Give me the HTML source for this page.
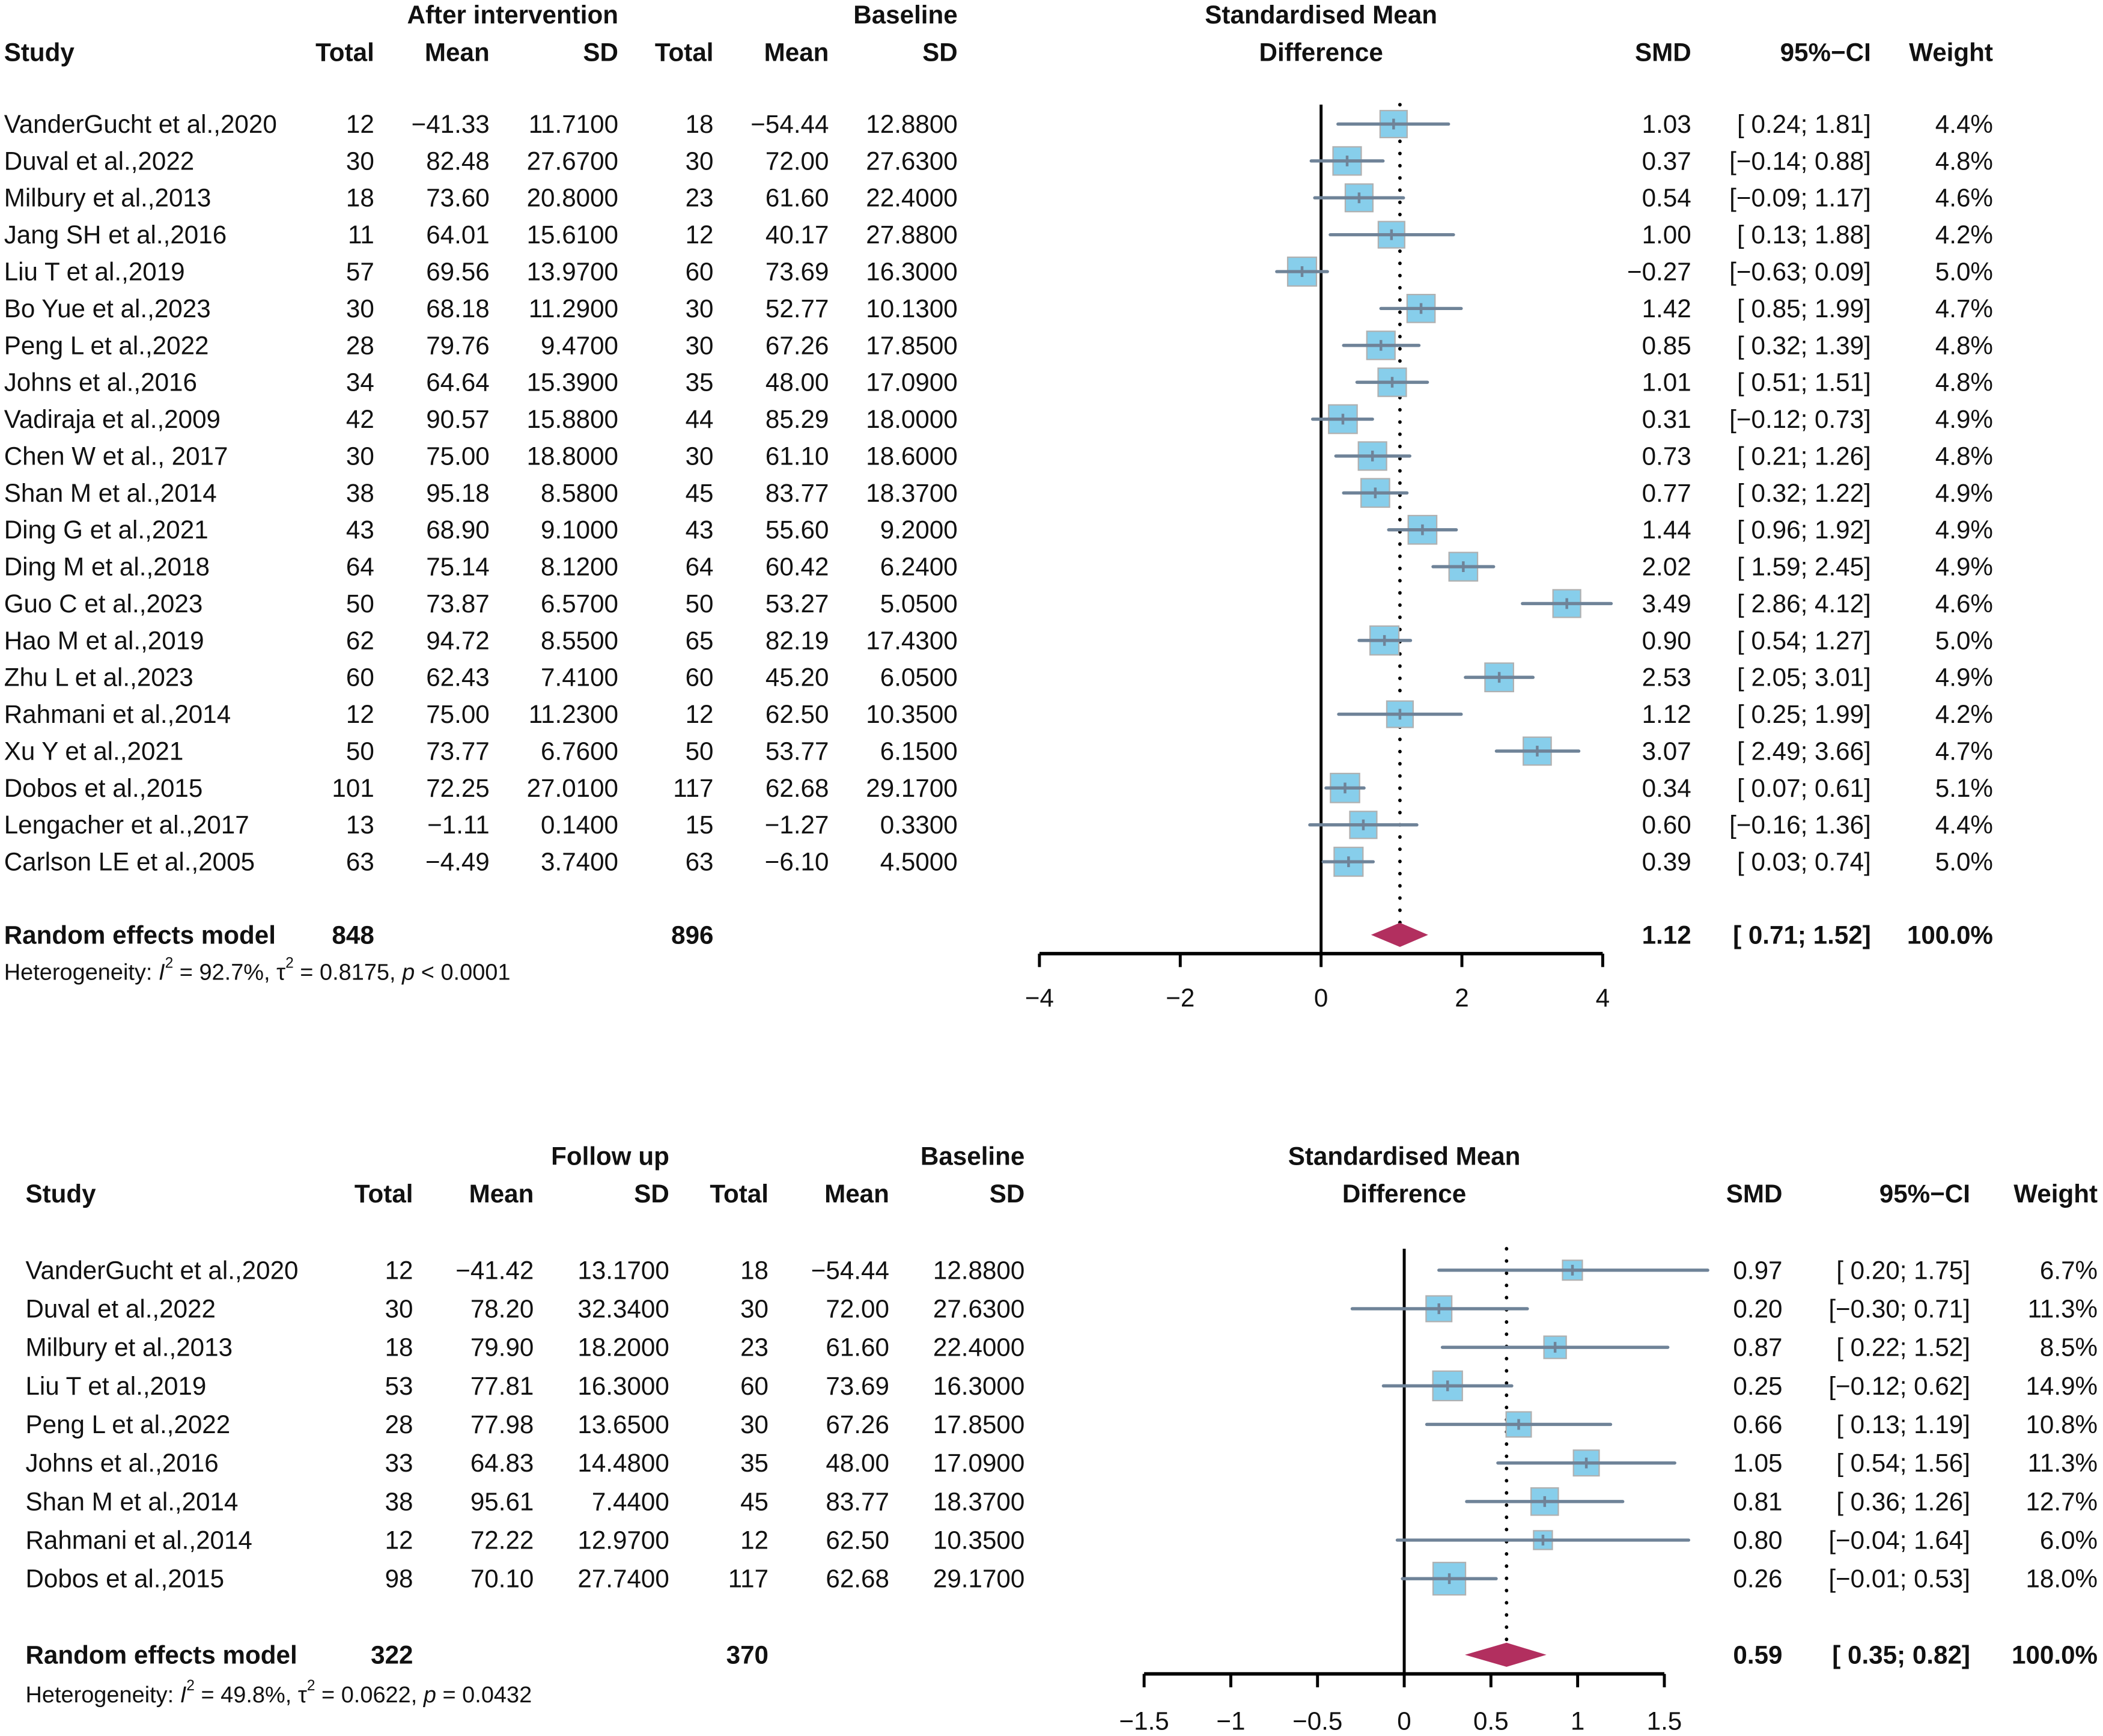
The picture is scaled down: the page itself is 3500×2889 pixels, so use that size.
<!DOCTYPE html>
<html><head><meta charset="utf-8">
<style>
html,body{margin:0;padding:0;background:#fff;}
svg{display:block;}
text{font-family:"Liberation Sans",Arial,sans-serif;fill:#111;}
</style></head>
<body>
<svg id="chart" width="3500" height="2889" viewBox="0 0 1568 1294.3" xmlns="http://www.w3.org/2000/svg"></svg>
<script>
// ===== Panel 1 data =====
const studies1 = ["VanderGucht et al.,2020","Duval et al.,2022","Milbury et al.,2013","Jang SH et al.,2016","Liu T et al.,2019","Bo Yue et al.,2023","Peng L et al.,2022","Johns et al.,2016","Vadiraja et al.,2009","Chen W et al., 2017","Shan M et al.,2014","Ding G et al.,2021","Ding M et al.,2018","Guo C et al.,2023","Hao M et al.,2019","Zhu L et al.,2023","Rahmani et al.,2014","Xu Y et al.,2021","Dobos et al.,2015","Lengacher et al.,2017","Carlson LE et al.,2005"];
const nT1 = [12,30,18,11,57,30,28,34,42,30,38,43,64,50,62,60,12,50,101,13,63];
const meanT1 = [-41.33,82.48,73.60,64.01,69.56,68.18,79.76,64.64,90.57,75.00,95.18,68.90,75.14,73.87,94.72,62.43,75.00,73.77,72.25,-1.11,-4.49];
const sdT1 = [11.71,27.67,20.80,15.61,13.97,11.29,9.47,15.39,15.88,18.80,8.58,9.10,8.12,6.57,8.55,7.41,11.23,6.76,27.01,0.14,3.74];
const nC1 = [18,30,23,12,60,30,30,35,44,30,45,43,64,50,65,60,12,50,117,15,63];
const meanC1 = [-54.44,72.00,61.60,40.17,73.69,52.77,67.26,48.00,85.29,61.10,83.77,55.60,60.42,53.27,82.19,45.20,62.50,53.77,62.68,-1.27,-6.10];
const sdC1 = [12.88,27.63,22.40,27.88,16.30,10.13,17.85,17.09,18.00,18.60,18.37,9.20,6.24,5.05,17.43,6.05,10.35,6.15,29.17,0.33,4.50];
const smd1 = [1.03,0.37,0.54,1.00,-0.27,1.42,0.85,1.01,0.31,0.73,0.77,1.44,2.02,3.49,0.90,2.53,1.12,3.07,0.34,0.60,0.39];
const lo1 = [0.24,-0.14,-0.09,0.13,-0.63,0.85,0.32,0.51,-0.12,0.21,0.32,0.96,1.59,2.86,0.54,2.05,0.25,2.49,0.07,-0.16,0.03];
const hi1 = [1.81,0.88,1.17,1.88,0.09,1.99,1.39,1.51,0.73,1.26,1.22,1.92,2.45,4.12,1.27,3.01,1.99,3.66,0.61,1.36,0.74];
const w1 = [4.4,4.8,4.6,4.2,5.0,4.7,4.8,4.8,4.9,4.8,4.9,4.9,4.9,4.6,5.0,4.9,4.2,4.7,5.1,4.4,5.0];
const re1 = [1.12,0.71,1.52];
const reN1 = [848,896];
const ticks1 = [-4,-2,0,2,4];
const het1 = ["92.7%","0.8175","p < 0.0001"];

// ===== Panel 2 data =====
const studies2 = ["VanderGucht et al.,2020","Duval et al.,2022","Milbury et al.,2013","Liu T et al.,2019","Peng L et al.,2022","Johns et al.,2016","Shan M et al.,2014","Rahmani et al.,2014","Dobos et al.,2015"];
const nT2 = [12,30,18,53,28,33,38,12,98];
const meanT2 = [-41.42,78.20,79.90,77.81,77.98,64.83,95.61,72.22,70.10];
const sdT2 = [13.17,32.34,18.20,16.30,13.65,14.48,7.44,12.97,27.74];
const nC2 = [18,30,23,60,30,35,45,12,117];
const meanC2 = [-54.44,72.00,61.60,73.69,67.26,48.00,83.77,62.50,62.68];
const sdC2 = [12.88,27.63,22.40,16.30,17.85,17.09,18.37,10.35,29.17];
const smd2 = [0.97,0.20,0.87,0.25,0.66,1.05,0.81,0.80,0.26];
const lo2 = [0.20,-0.30,0.22,-0.12,0.13,0.54,0.36,-0.04,-0.01];
const hi2 = [1.75,0.71,1.52,0.62,1.19,1.56,1.26,1.64,0.53];
const w2 = [6.7,11.3,8.5,14.9,10.8,11.3,12.7,6.0,18.0];
const re2 = [0.59,0.35,0.82];
const reN2 = [322,370];
const ticks2 = [-1.5,-1,-0.5,0,0.5,1,1.5];
const het2 = ["49.8%","0.0622","p = 0.0432"];

const NS = "http://www.w3.org/2000/svg";
const svg = document.getElementById('chart');
const FS = 18.9;
function mk(tag, attrs, parent){
  const e = document.createElementNS(NS, tag);
  for (const k in attrs) e.setAttribute(k, attrs[k]);
  (parent||svg).appendChild(e);
  return e;
}
function txt(x,y,s,anchor,bold,parent,size){
  const t = mk('text',{x:x,y:y,'text-anchor':anchor||'start','font-size':size||FS,'dominant-baseline':'central'},parent);
  if (bold) t.setAttribute('font-weight','bold');
  t.textContent = s;
  return t;
}
function neg(s){ return s.replace('-','\u2212'); }
function f2(v){ return neg(v.toFixed(2)); }
function f4(v){ return neg(v.toFixed(4)); }
function ci(l,h){ const a = l<0 ? f2(l) : ' '+f2(l); return '['+a+'; '+f2(h)+']'; }
function tickLbl(v){ return neg(String(v)); }

function panel(c, d){
  const g = mk('g',{});
  
  
  const X = v => c.x0 + v*c.ppu;
  const Y = i => c.row0 + i*c.dy;
  txt(c.colSD1, c.h1, c.grpA, 'end', true, g);
  txt(c.colSD2, c.h1, 'Baseline', 'end', true, g);
  txt(X(0), c.h1, 'Standardised Mean', 'middle', true, g);
  txt(c.studyX, c.h2, 'Study', 'start', true, g);
  txt(c.colN1, c.h2, 'Total', 'end', true, g);
  txt(c.colM1, c.h2, 'Mean', 'end', true, g);
  txt(c.colSD1, c.h2, 'SD', 'end', true, g);
  txt(c.colN2, c.h2, 'Total', 'end', true, g);
  txt(c.colM2, c.h2, 'Mean', 'end', true, g);
  txt(c.colSD2, c.h2, 'SD', 'end', true, g);
  txt(X(0), c.h2, 'Difference', 'middle', true, g);
  txt(c.colSMD, c.h2, 'SMD', 'end', true, g);
  txt(c.colCI, c.h2, '95%\u2212CI', 'end', true, g);
  txt(c.colW, c.h2, 'Weight', 'end', true, g);
  const n = d.studies.length;
  const reY = Y(n) + c.reGap;
  const zl = mk('line',{x1:X(0),x2:X(0),y1:c.lineTop,y2:c.axisY,stroke:'#000','stroke-width':2.2},g);
  
  
  const dl = mk('line',{x1:X(d.re[0]),x2:X(d.re[0]),y1:c.lineTop,y2:reY-9,stroke:'#000','stroke-width':2.6,'stroke-dasharray':'0.1 9','stroke-linecap':'round'},g);
  
  
  for (let i=0;i<n;i++){
    const y = Y(i);
    const row = mk('g',{},g);
    
    
    txt(c.studyX, y, d.studies[i], 'start', false, row);
    txt(c.colN1, y, String(d.nT[i]), 'end', false, row);
    txt(c.colM1, y, f2(d.meanT[i]), 'end', false, row);
    txt(c.colSD1, y, f4(d.sdT[i]), 'end', false, row);
    txt(c.colN2, y, String(d.nC[i]), 'end', false, row);
    txt(c.colM2, y, f2(d.meanC[i]), 'end', false, row);
    txt(c.colSD2, y, f4(d.sdC[i]), 'end', false, row);
    txt(c.colSMD, y, f2(d.smd[i]), 'end', false, row);
    txt(c.colCI, y, ci(d.lo[i], d.hi[i]), 'end', false, row);
    txt(c.colW, y, d.w[i].toFixed(1)+'%', 'end', false, row);
    const s = c.boxK*Math.sqrt(d.w[i]);
    const bx = mk('rect',{x:X(d.smd[i])-s/2,y:y-s/2,width:s,height:s,fill:'#87ceeb',stroke:'#b0b0b0','stroke-width':1},row);
    
    
    const ln = mk('line',{x1:X(d.lo[i]),x2:X(d.hi[i]),y1:y,y2:y,stroke:'#6f8398','stroke-width':2.4,'stroke-linecap':'round'},row);
    
    
    mk('line',{x1:X(d.smd[i]),x2:X(d.smd[i]),y1:y-4,y2:y+4,stroke:'#6f8398','stroke-width':2},row);
  }
  const rg = mk('g',{},g);
  
  
  txt(c.studyX, reY, 'Random effects model', 'start', true, rg);
  txt(c.colN1, reY, String(d.reN[0]), 'end', true, rg);
  txt(c.colN2, reY, String(d.reN[1]), 'end', true, rg);
  txt(c.colSMD, reY, f2(d.re[0]), 'end', true, rg);
  txt(c.colCI, reY, ci(d.re[1], d.re[2]), 'end', true, rg);
  txt(c.colW, reY, '100.0%', 'end', true, rg);
  const dm = mk('polygon',{points:[X(d.re[1])+','+reY, X(d.re[0])+','+(reY-9), X(d.re[2])+','+reY, X(d.re[0])+','+(reY+9)].join(' '),fill:'#b22f5f'},rg);
  
  
  const ht = mk('text',{x:c.studyX,y:reY+c.hetGap,'font-size':17,'dominant-baseline':'central'},g);
  
  
  ht.innerHTML = 'Heterogeneity: <tspan font-style="italic">I</tspan><tspan dy="-7" font-size="11">2</tspan><tspan dy="7"> = '+d.het[0]+', \u03c4</tspan><tspan dy="-7" font-size="11">2</tspan><tspan dy="7"> = '+d.het[1]+', </tspan><tspan font-style="italic">p</tspan> '+d.het[2].slice(2);
  const ax = mk('g',{},g);
  
  
  const t0 = d.ticks[0], t1 = d.ticks[d.ticks.length-1];
  mk('line',{x1:X(t0),x2:X(t1),y1:c.axisY,y2:c.axisY,stroke:'#000','stroke-width':2.6},ax);
  d.ticks.forEach(v=>{
    mk('line',{x1:X(v),x2:X(v),y1:c.axisY,y2:c.axisY+10,stroke:'#000','stroke-width':2.2},ax);
    const tl = txt(X(v), c.axisY+c.tickGap, tickLbl(v), 'middle', false, ax);
    
    
  });
}

panel({name:'forest-plot-after-intervention', grpA:'After intervention',
  studyX:3, colN1:279, colM1:365, colSD1:461, colN2:532, colM2:618, colSD2:714,
  colSMD:1261, colCI:1395, colW:1486, h1:11, h2:39,
  row0:92.5, dy:27.5, reGap:27, hetGap:28, x0:985, ppu:52.5, lineTop:78, axisY:711, boxK:9.6, tickGap:33},
  {studies:studies1,nT:nT1,meanT:meanT1,sdT:sdT1,nC:nC1,meanC:meanC1,sdC:sdC1,smd:smd1,lo:lo1,hi:hi1,w:w1,re:re1,reN:reN1,ticks:ticks1,het:het1});

panel({name:'forest-plot-follow-up', grpA:'Follow up',
  studyX:19, colN1:308, colM1:398, colSD1:499, colN2:573, colM2:663, colSD2:764,
  colSMD:1329, colCI:1469, colW:1564, h1:862, h2:890,
  row0:947, dy:28.75, reGap:28, hetGap:30, x0:1047, ppu:129.3, lineTop:931, axisY:1248, boxK:5.7, tickGap:35},
  {studies:studies2,nT:nT2,meanT:meanT2,sdT:sdT2,nC:nC2,meanC:meanC2,sdC:sdC2,smd:smd2,lo:lo2,hi:hi2,w:w2,re:re2,reN:reN2,ticks:ticks2,het:het2});
</script>
</body></html>
